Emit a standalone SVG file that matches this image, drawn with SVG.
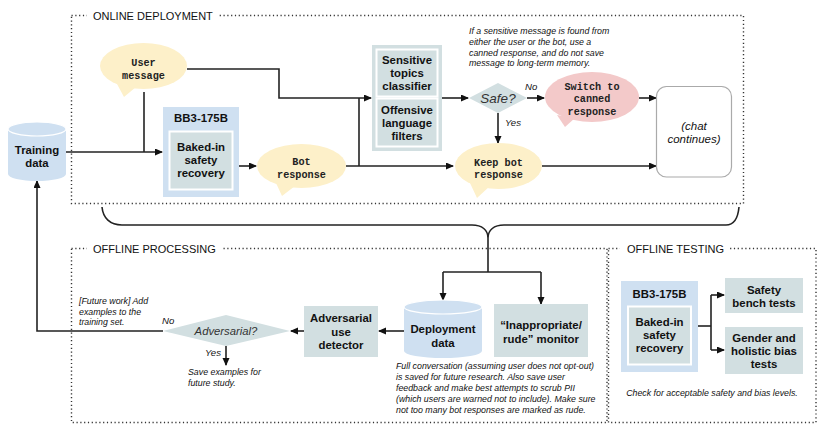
<svg xmlns="http://www.w3.org/2000/svg" width="822" height="429" viewBox="0 0 822 429">
<defs>
<style>
.dot{fill:none;stroke:#333;stroke-width:1.4;stroke-dasharray:1.2 2.6}
.ttl{font-family:"Liberation Sans",Arial,sans-serif;font-size:11px;fill:#111}
.ln{fill:none;stroke:#222;stroke-width:1.6}
.b{font-family:"Liberation Sans",Arial,sans-serif;font-weight:bold;font-size:11.4px;fill:#111;text-anchor:middle}
.m{font-family:"Liberation Mono","Courier New",monospace;font-weight:bold;font-size:10.2px;fill:#222;text-anchor:middle}
.i{font-family:"Liberation Sans",Arial,sans-serif;font-style:italic;font-size:8.8px;fill:#111}
.iq{font-family:"Liberation Sans",Arial,sans-serif;font-style:italic;font-size:11.5px;fill:#333;text-anchor:middle}
.y{fill:#fdf0c9}
.p{fill:#f3c9c9}
.blue{fill:#cfe0f1}
.teal{fill:#d2dfe1}
</style>
<marker id="ar" markerWidth="8" markerHeight="8" refX="7" refY="3.5" orient="auto" markerUnits="userSpaceOnUse">
<path d="M0,0 L8,3.5 L0,7 Z" fill="#111"/>
</marker>
</defs>
<rect width="822" height="429" fill="#fff"/>

<!-- section frames -->
<g id="online-frame">
<rect class="dot" x="71.5" y="15.5" width="672" height="188"/>
<rect x="87" y="8" width="131" height="15" fill="#fff"/>
<text class="ttl" x="93" y="19.5">ONLINE DEPLOYMENT</text>
</g>
<g id="offline-processing-frame">
<rect class="dot" x="71.5" y="248.5" width="535.5" height="174"/>
<rect x="87" y="241" width="135" height="15" fill="#fff"/>
<text class="ttl" x="93" y="252.5">OFFLINE PROCESSING</text>
</g>
<g id="offline-testing-frame">
<rect class="dot" x="608.5" y="248.5" width="207.5" height="174"/>
<rect x="620" y="241" width="109" height="15" fill="#fff"/>
<text class="ttl" x="627" y="252.5">OFFLINE TESTING</text>
</g>

<!-- connectors -->
<g id="connectors">
<path class="ln" d="M66,152 H162" marker-end="url(#ar)"/>
<path class="ln" d="M144,92 V152"/>
<path class="ln" d="M187,69 H279 V98 H371" marker-end="url(#ar)"/>
<path class="ln" d="M239,166 H256" marker-end="url(#ar)"/>
<path class="ln" d="M346,166 H453" marker-end="url(#ar)"/>
<path class="ln" d="M359,166 V98"/>
<path class="ln" d="M442,98 H468" marker-end="url(#ar)"/>
<path class="ln" d="M527,98 H544" marker-end="url(#ar)"/>
<path class="ln" d="M498,113 V143" marker-end="url(#ar)"/>
<path class="ln" d="M639,98 H656" marker-end="url(#ar)"/>
<path class="ln" d="M542,166 H656" marker-end="url(#ar)"/>
<path class="ln" d="M102,207 C103,218 110,225 122,225 H472 C482,225 488,230 488,238 C488,230 494,225 504,225 H726 C734,225 738,218 739,207"/>
<path class="ln" d="M488,238 V272"/>
<path class="ln" d="M443,272 H541"/>
<path class="ln" d="M443,272 V300" marker-end="url(#ar)"/>
<path class="ln" d="M541,272 V304" marker-end="url(#ar)"/>
<path class="ln" d="M404,331 H379" marker-end="url(#ar)"/>
<path class="ln" d="M304,331 H291" marker-end="url(#ar)"/>
<path class="ln" d="M163,331 H37 V181" marker-end="url(#ar)"/>
<path class="ln" d="M226,346 V365" marker-end="url(#ar)"/>
<path class="ln" d="M698,326 H711"/>
<path class="ln" d="M711,295 V350"/>
<path class="ln" d="M711,295 H724" marker-end="url(#ar)"/>
<path class="ln" d="M711,350 H724" marker-end="url(#ar)"/>
</g>

<!-- nodes -->
<g id="training-data">
<path class="blue" d="M8,129 A29,7 0 0 1 66,129 V174 A29,7 0 0 1 8,174 Z"/>
<ellipse cx="37" cy="129" rx="29" ry="7" fill="none" stroke="#fff" stroke-width="1.2"/>
<text class="b" x="37" y="154">Training</text>
<text class="b" x="37" y="167">data</text>
</g>

<g id="user-message">
<polygon class="y" points="117,84 136,87 124,97"/>
<ellipse class="y" cx="143.5" cy="66" rx="43.5" ry="23"/>
<text class="m" x="143.5" y="66">User</text>
<text class="m" x="143.5" y="79">message</text>
</g>

<g id="bb3-online">
<rect class="blue" x="163" y="107" width="76" height="90"/>
<text class="b" x="201" y="122">BB3-175B</text>
<rect class="teal" x="169.5" y="131.5" width="63" height="58" stroke="#fff" stroke-width="2"/>
<text class="b" x="201" y="151">Baked-in</text>
<text class="b" x="201" y="164">safety</text>
<text class="b" x="201" y="177">recovery</text>
</g>

<g id="bot-response">
<polygon class="y" points="276,183 295,186 282,196"/>
<ellipse class="y" cx="301.5" cy="166" rx="44.5" ry="22"/>
<text class="m" x="301.5" y="165">Bot</text>
<text class="m" x="301.5" y="178">response</text>
</g>

<g id="filters">
<rect class="teal" x="372" y="45" width="70" height="106"/>
<rect class="teal" x="376.5" y="49.5" width="61" height="47" stroke="#fff" stroke-width="2"/>
<rect class="teal" x="376.5" y="98.5" width="61" height="48" stroke="#fff" stroke-width="2"/>
<text class="b" x="407" y="64">Sensitive</text>
<text class="b" x="407" y="77">topics</text>
<text class="b" x="407" y="90">classifier</text>
<text class="b" x="407" y="114">Offensive</text>
<text class="b" x="407" y="127">language</text>
<text class="b" x="407" y="140">filters</text>
</g>

<g id="safe-decision">
<polygon class="teal" points="469,98 498,83 527,98 498,113"/>
<text class="iq" x="498" y="102.5" style="font-size:13.5px">Safe?</text>
<text class="i" x="525" y="90" style="font-size:9.6px">No</text>
<text class="i" x="505" y="126" style="font-size:9.6px">Yes</text>
</g>

<g id="note-online">
<text class="i" x="469" y="34">If a sensitive message is found from</text>
<text class="i" x="469" y="45">either the user or the bot, use a</text>
<text class="i" x="469" y="56">canned response, and do not save</text>
<text class="i" x="469" y="66">message to long-term memory.</text>
</g>

<g id="switch-canned">
<polygon class="p" points="557,115 575,118 565,127"/>
<ellipse class="p" cx="592" cy="97" rx="47" ry="25"/>
<text class="m" x="592" y="90">Switch to</text>
<text class="m" x="592" y="102">canned</text>
<text class="m" x="592" y="115">response</text>
</g>

<g id="keep-bot">
<polygon class="y" points="470,183 490,186 477,198"/>
<ellipse class="y" cx="498.5" cy="166" rx="43.5" ry="23"/>
<text class="m" x="498.5" y="166">Keep bot</text>
<text class="m" x="498.5" y="178">response</text>
</g>

<g id="chat-continues">
<rect x="656.5" y="86.5" width="75" height="90.5" rx="10" fill="#fff" stroke="#aaa" stroke-width="1.2"/>
<text class="iq" x="694" y="130" style="fill:#111">(chat</text>
<text class="iq" x="694" y="143" style="fill:#111">continues)</text>
</g>

<g id="adversarial-decision">
<polygon class="teal" points="163,331 226,315 290,331 226,346"/>
<text class="iq" x="226" y="335" style="font-size:11.3px">Adversarial?</text>
<text class="i" x="162" y="324" style="font-size:9.6px">No</text>
<text class="i" x="205" y="356" style="font-size:9.6px">Yes</text>
</g>

<g id="note-future">
<text class="i" x="79" y="304">[Future work] Add</text>
<text class="i" x="79" y="315">examples to the</text>
<text class="i" x="79" y="325">training set.</text>
</g>

<g id="note-save">
<text class="i" x="188" y="375">Save examples for</text>
<text class="i" x="188" y="386">future study.</text>
</g>

<g id="adversarial-detector">
<rect class="teal" x="304" y="306" width="74" height="51"/>
<text class="b" x="341" y="322">Adversarial</text>
<text class="b" x="341" y="336">use</text>
<text class="b" x="341" y="349">detector</text>
</g>

<g id="deployment-data">
<path class="blue" d="M404,307 A39,7 0 0 1 482,307 V351 A39,7 0 0 1 404,351 Z"/>
<ellipse cx="443" cy="307" rx="39" ry="7" fill="none" stroke="#fff" stroke-width="1.2"/>
<text class="b" x="443" y="333">Deployment</text>
<text class="b" x="443" y="347">data</text>
</g>

<g id="rude-monitor">
<rect class="teal" x="494" y="304" width="94" height="53"/>
<text class="b" x="541" y="329">“Inappropriate/</text>
<text class="b" x="541" y="343">rude” monitor</text>
</g>

<g id="note-deployment">
<text class="i" x="396" y="369">Full conversation (assuming user does not opt-out)</text>
<text class="i" x="396" y="380">is saved for future research. Also save user</text>
<text class="i" x="396" y="391">feedback and make best attempts to scrub PII</text>
<text class="i" x="396" y="402">(which users are warned not to include). Make sure</text>
<text class="i" x="396" y="413">not too many bot responses are marked as rude.</text>
</g>

<g id="bb3-offline">
<rect class="blue" x="621" y="281" width="77" height="91"/>
<text class="b" x="659.5" y="298">BB3-175B</text>
<rect class="teal" x="628" y="306.5" width="63" height="58" stroke="#fff" stroke-width="2"/>
<text class="b" x="659.5" y="326">Baked-in</text>
<text class="b" x="659.5" y="339">safety</text>
<text class="b" x="659.5" y="352">recovery</text>
</g>

<g id="safety-bench">
<rect class="teal" x="725" y="278" width="78" height="35"/>
<text class="b" x="764" y="294">Safety</text>
<text class="b" x="764" y="307">bench tests</text>
</g>

<g id="bias-tests">
<rect class="teal" x="725" y="327" width="78" height="47"/>
<text class="b" x="764" y="342">Gender and</text>
<text class="b" x="764" y="355">holistic bias</text>
<text class="b" x="764" y="368">tests</text>
</g>

<g id="note-testing">
<text class="i" x="712" y="396" text-anchor="middle">Check for acceptable safety and bias levels.</text>
</g>
</svg>
